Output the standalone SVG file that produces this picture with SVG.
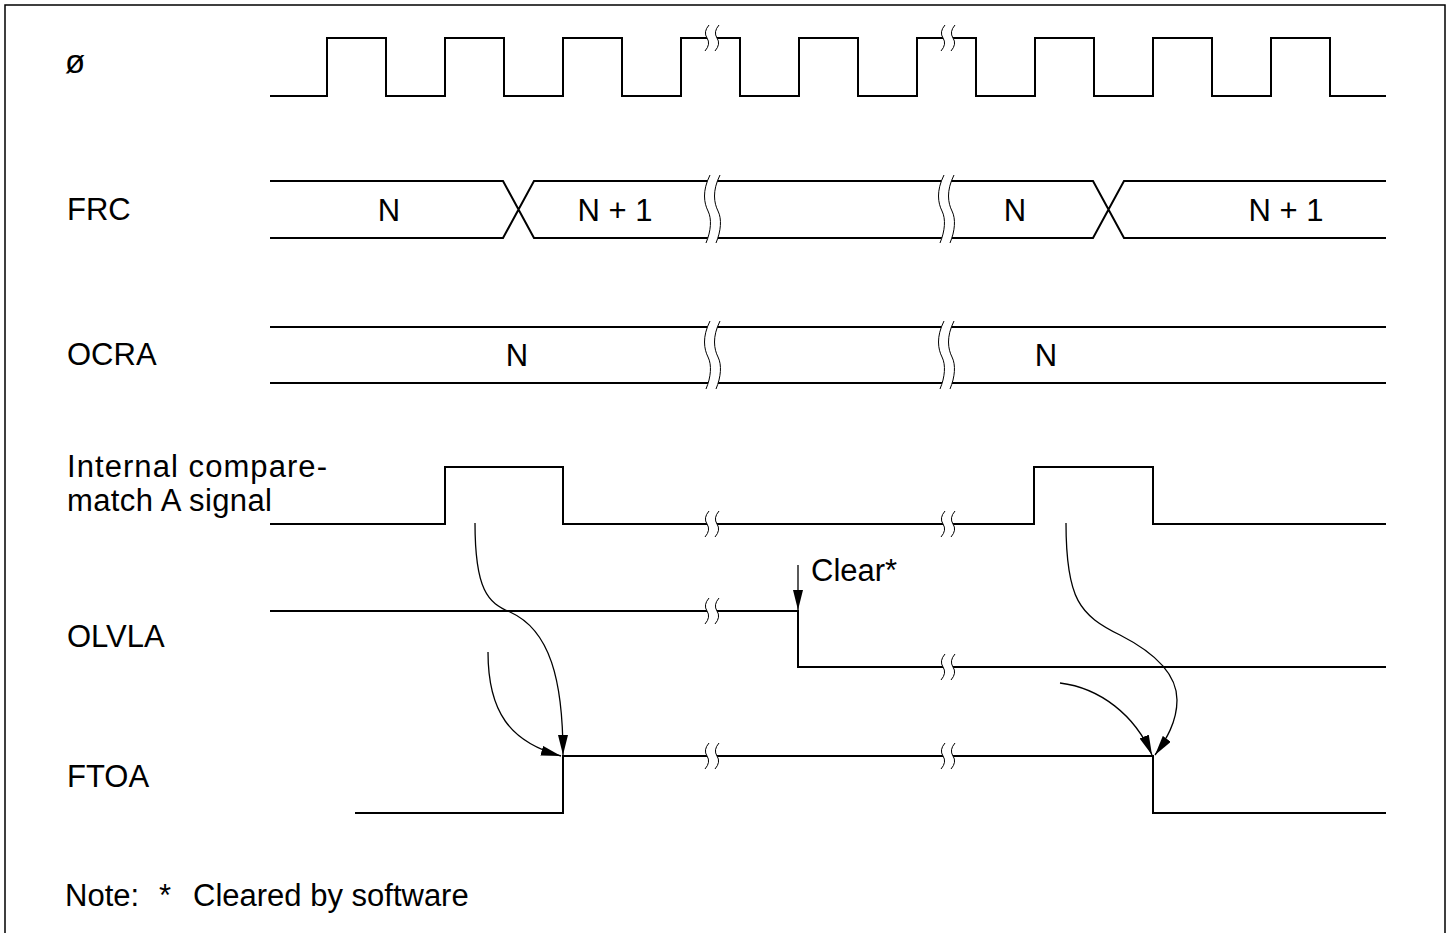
<svg xmlns="http://www.w3.org/2000/svg" xmlns:xlink="http://www.w3.org/1999/xlink" width="1453" height="933" viewBox="0 0 1453 933">
<style>
.sig{fill:none;stroke:#000;stroke-width:2}
.arr{fill:none;stroke:#000;stroke-width:1.3}
.lbl{font-family:"Liberation Sans",Arial,sans-serif;font-size:31px;fill:#000}
.mid{text-anchor:middle}
</style>
<defs>
<marker id="ah" viewBox="0 0 20 10" refX="20" refY="5" markerWidth="20" markerHeight="10" markerUnits="userSpaceOnUse" orient="auto">
<path d="M0,0 L20,5 L0,10 Z" fill="#000"/>
</marker>
<g id="bs">
<path d="M2,-13 Q-4,-6 0,0 Q4,6 -2,13 L8,13 Q14,6 10,0 Q6,-6 12,-13 Z" fill="#fff"/>
<path d="M2,-13 Q-4,-6 0,0 Q4,6 -2,13 M12,-13 Q6,-6 10,0 Q14,6 8,13" fill="none" stroke="#000" stroke-width="1"/>
</g>
<g id="bl">
<path d="M2,-34 C-6,-18 -4,-6 0,2 C4,10 3,22 -2,34 L8,34 C13,22 14,10 10,2 C6,-6 4,-18 12,-34 Z" fill="#fff"/>
<path d="M2,-34 C-6,-18 -4,-6 0,2 C4,10 3,22 -2,34 M12,-34 C4,-18 6,-6 10,2 C14,10 13,22 8,34" fill="none" stroke="#000" stroke-width="1"/>
</g>
</defs>
<rect width="1453" height="933" fill="#fff"/>
<path d="M5,933 V5 H1445 V933" fill="none" stroke="#000" stroke-width="1.5"/>

<g id="clock">
<text class="lbl" x="65" y="73" style="font-size:33px">ø</text>
<path class="sig" d="M270,96 H327 V38 H386 V96 H445 V38 H504 V96 H563 V38 H622 V96 H681 V38 H740 V96 H799 V38 H858 V96 H917 V38 H976 V96 H1035 V38 H1094 V96 H1153 V38 H1212 V96 H1271 V38 H1330 V96 H1386"/>
<use xlink:href="#bs" x="707" y="38"/>
<use xlink:href="#bs" x="943" y="38"/>
</g>

<g id="frc">
<text class="lbl" x="67" y="220">FRC</text>
<path class="sig" d="M270,181 H503 L534,238 H1093 L1124,181 H1386 M270,238 H503 L534,181 H1093 L1124,238 H1386"/>
<use xlink:href="#bl" x="708" y="209"/>
<use xlink:href="#bl" x="942" y="209"/>
<text class="lbl mid" x="389" y="221">N</text>
<text class="lbl mid" x="615" y="221">N + 1</text>
<text class="lbl mid" x="1015" y="221">N</text>
<text class="lbl mid" x="1286" y="221">N + 1</text>
</g>

<g id="ocra">
<text class="lbl" x="67" y="365">OCRA</text>
<path class="sig" d="M270,327 H1386 M270,383 H1386"/>
<use xlink:href="#bl" x="708" y="355"/>
<use xlink:href="#bl" x="942" y="355"/>
<text class="lbl mid" x="517" y="366">N</text>
<text class="lbl mid" x="1046" y="366">N</text>
</g>

<g id="cmatch">
<text class="lbl" x="67" y="477" textLength="260" lengthAdjust="spacing">Internal compare-</text>
<text class="lbl" x="67" y="511" textLength="205" lengthAdjust="spacing">match A signal</text>
<path class="sig" d="M270,524 H445 V467 H563 V524 H1034 V467 H1153 V524 H1386"/>
<use xlink:href="#bs" x="707" y="524"/>
<use xlink:href="#bs" x="943" y="524"/>
</g>

<g id="olvla">
<text class="lbl" x="67" y="647">OLVLA</text>
<path class="sig" d="M270,611 H798 V667 H1386"/>
<use xlink:href="#bs" x="707" y="611"/>
<use xlink:href="#bs" x="943" y="667"/>
<text class="lbl" x="811" y="581">Clear*</text>
</g>

<g id="ftoa">
<text class="lbl" x="67" y="787">FTOA</text>
<path class="sig" d="M355,813 H563 V756 H1153 V813 H1386"/>
<use xlink:href="#bs" x="707" y="756"/>
<use xlink:href="#bs" x="943" y="756"/>
</g>

<g id="connectors">
<path class="arr" d="M798,565 V610" marker-end="url(#ah)"/>
<path class="arr" d="M475,523 C475,590 488,603 510,612 C550,630 563,680 563,755" marker-end="url(#ah)"/>
<path class="arr" d="M488,652 C488,712 510,742 561,756" marker-end="url(#ah)"/>
<path class="arr" d="M1066,523 C1066,600 1080,615 1120,635 C1165,658 1177,680 1177,700 C1177,722 1166,740 1155,755" marker-end="url(#ah)"/>
<path class="arr" d="M1060,683 C1100,688 1135,715 1152,755" marker-end="url(#ah)"/>
</g>

<g id="note">
<text class="lbl" y="906"><tspan x="65">Note:</tspan><tspan x="159">*</tspan><tspan x="193">Cleared by software</tspan></text>
</g>
</svg>
